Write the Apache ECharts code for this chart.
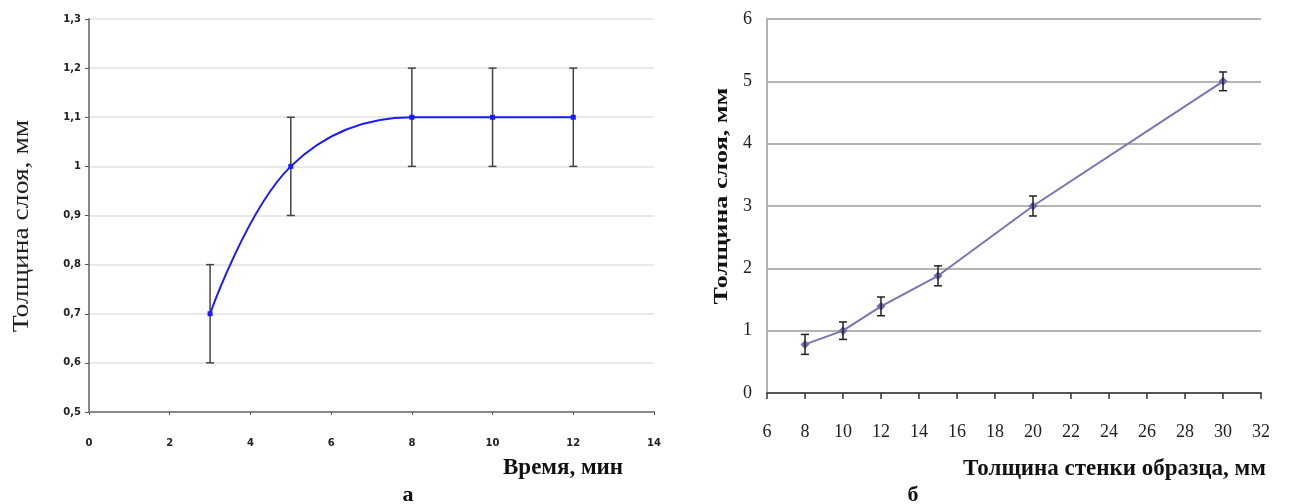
<!DOCTYPE html>
<html>
<head>
<meta charset="utf-8">
<script src="https://cdn.jsdelivr.net/npm/echarts@6/dist/echarts.min.js"></script>
<style>
  html, body { margin: 0; padding: 0; background: #fff; }
  #chart { width: 1289px; height: 504px; }
</style>
</head>
<body>
<div id="chart"></div>
<script>
// график а: толщина слоя от времени
var timeMin = [3, 5, 8, 10, 12];
var layerA = [0.7, 1.0, 1.1, 1.1, 1.1];
var errA = [0.1, 0.1, 0.1, 0.1, 0.1];

// график б: толщина слоя от толщины стенки
var wallMm = [8, 10, 12, 15, 20, 30];
var layerB = [0.78, 1.0, 1.39, 1.88, 3.0, 5.0];
var errB = [0.16, 0.14, 0.15, 0.16, 0.16, 0.15];

var serif = '"Liberation Serif", "DejaVu Serif", serif';

function pairs(xs, ys) {
    return xs.map(function (x, i) { return [x, ys[i]]; });
}
function errRows(xs, ys, es) {
    return xs.map(function (x, i) { return [x, ys[i] - es[i], ys[i] + es[i]]; });
}
function errorBar(cap, color, width) {
    return function (params, api) {
        var x = api.value(0);
        var lo = api.coord([x, api.value(1)]);
        var hi = api.coord([x, api.value(2)]);
        var st = { stroke: color, lineWidth: width };
        return {
            type: 'group',
            children: [
                { type: 'line', shape: { x1: lo[0], y1: lo[1], x2: hi[0], y2: hi[1] }, style: st },
                { type: 'line', shape: { x1: lo[0] - cap, y1: lo[1], x2: lo[0] + cap, y2: lo[1] }, style: st },
                { type: 'line', shape: { x1: hi[0] - cap, y1: hi[1], x2: hi[0] + cap, y2: hi[1] }, style: st }
            ]
        };
    };
}

var chart = echarts.init(document.getElementById('chart'));

var option = {
    animation: false,
    backgroundColor: '#fff',
    grid: [
        { left: 89, top: 19, width: 565, height: 393 },
        { left: 767, top: 19, width: 494, height: 374 }
    ],
    xAxis: [
        {
            gridIndex: 0, type: 'value', min: 0, max: 14, interval: 2,
            axisLine: { lineStyle: { color: '#888', width: 2 } },
            axisTick: { show: true, length: 3, lineStyle: { color: '#555' } },
            axisLabel: { color: '#222', fontSize: 10, fontWeight: 'bold', fontFamily: 'Tahoma, "DejaVu Sans", sans-serif', margin: 26 },
            splitLine: { show: false }
        },
        {
            gridIndex: 1, type: 'value', min: 6, max: 32, interval: 2,
            axisLine: { lineStyle: { color: '#555', width: 2 } },
            axisTick: { show: true, length: 6, lineStyle: { color: '#333', width: 1.5 } },
            axisLabel: { color: '#222', fontSize: 18, fontFamily: serif, margin: 30 },
            splitLine: { show: false }
        }
    ],
    yAxis: [
        {
            gridIndex: 0, type: 'value', min: 0.5, max: 1.3, interval: 0.1,
            axisLine: { show: true, lineStyle: { color: '#888', width: 2 } },
            axisTick: { show: true, length: 4, lineStyle: { color: '#555' } },
            axisLabel: {
                color: '#222', fontSize: 10, fontWeight: 'bold', fontFamily: 'Tahoma, "DejaVu Sans", sans-serif', margin: 8,
                formatter: function (v) { return String(Math.round(v * 10) / 10).replace('.', ','); }
            },
            splitLine: { lineStyle: { color: '#e2e2e2', width: 1.5 } }
        },
        {
            gridIndex: 1, type: 'value', min: 0, max: 6, interval: 1,
            axisLine: { show: true, lineStyle: { color: '#b0b0b0', width: 2 } },
            axisTick: { show: false },
            axisLabel: { color: '#222', fontSize: 18, fontFamily: serif, margin: 15 },
            splitLine: { lineStyle: { color: '#b4b4b4', width: 2 } }
        }
    ],
    series: [
        {
            type: 'custom', xAxisIndex: 0, yAxisIndex: 0, z: 1,
            renderItem: errorBar(4, '#444', 1.5),
            data: errRows(timeMin, layerA, errA)
        },
        {
            type: 'line', xAxisIndex: 0, yAxisIndex: 0, z: 3,
            smooth: 0.38, symbol: 'rect', symbolSize: 5,
            itemStyle: { color: '#1a1aff' },
            lineStyle: { color: '#1a1aff', width: 2 },
            data: pairs(timeMin, layerA)
        },
        {
            type: 'line', xAxisIndex: 1, yAxisIndex: 1, z: 2,
            symbol: 'diamond', symbolSize: 9,
            itemStyle: { color: '#6b6bae' },
            lineStyle: { color: '#7676b4', width: 2 },
            data: pairs(wallMm, layerB)
        },
        {
            type: 'custom', xAxisIndex: 1, yAxisIndex: 1, z: 3,
            renderItem: errorBar(4, '#222', 1.5),
            data: errRows(wallMm, layerB, errB)
        }
    ],
    graphic: [
        {
            type: 'text', left: 503, top: 457,
            style: { text: 'Время, мин', font: 'bold 23px ' + serif, fill: '#111' }
        },
        {
            type: 'text', left: 963, top: 458,
            style: { text: 'Толщина стенки образца, мм', font: 'bold 23px ' + serif, fill: '#111' }
        },
        {
            type: 'text', x: 22, y: 226, rotation: Math.PI / 2, scaleX: 1.15,
            style: { text: 'Толщина слоя, мм', font: '24px ' + serif, fill: '#222', align: 'center', verticalAlign: 'middle' }
        },
        {
            type: 'text', x: 722, y: 196, rotation: Math.PI / 2, scaleX: 1.45,
            style: { text: 'Толщина слоя, мм', font: 'bold 18px ' + serif, fill: '#111', align: 'center', verticalAlign: 'middle' }
        },
        {
            type: 'text', x: 408, y: 484,
            style: { text: 'а', font: 'bold 22px ' + serif, fill: '#111', align: 'center', verticalAlign: 'top' }
        },
        {
            type: 'text', x: 913, y: 484,
            style: { text: 'б', font: 'bold 22px ' + serif, fill: '#111', align: 'center', verticalAlign: 'top' }
        }
    ]
};

chart.setOption(option);
</script>
</body>
</html>
